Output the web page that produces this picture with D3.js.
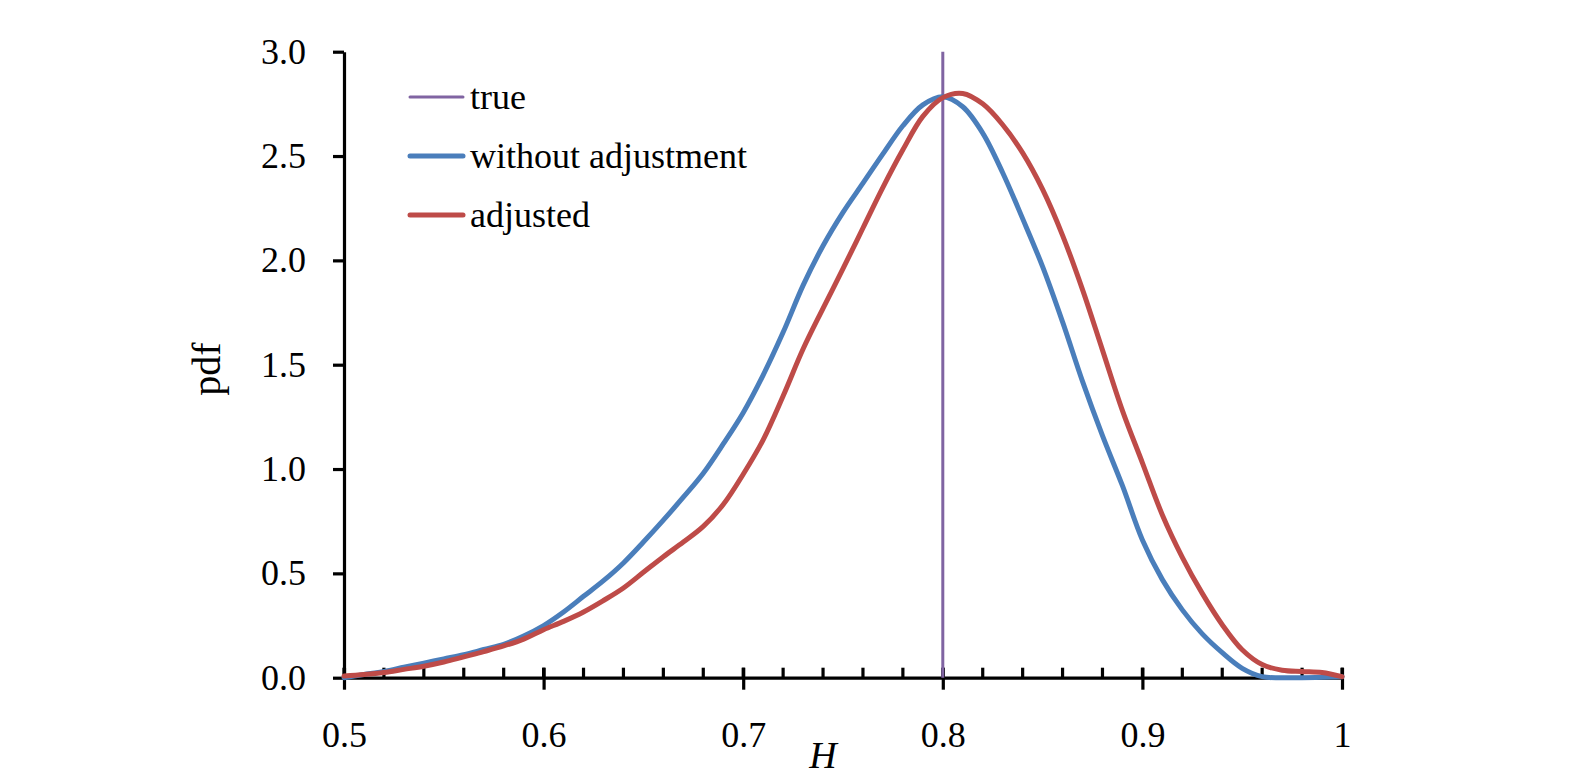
<!DOCTYPE html>
<html>
<head>
<meta charset="utf-8">
<script src="https://cdn.jsdelivr.net/npm/d3@7"></script>
<style>
  body { margin: 0; background: #fff; }
  svg text { font-family: "Liberation Serif", "Times New Roman", serif; fill: #000; }
  .axis path, .axis line { stroke: #000; stroke-width: 3.2; }
</style>
</head>
<body>
<svg id="chart" width="1583" height="776"></svg>
<script>
  // H grid (step 0.01)
  var hValues = d3.range(0, 51).map(function (i) { return +(0.5 + i * 0.01).toFixed(2); });

  // pdf without adjustment
  var withoutAdj = [
    0.00, 0.015, 0.03, 0.05, 0.07, 0.09, 0.11, 0.135, 0.16, 0.20,
    0.25, 0.315, 0.39, 0.465, 0.55, 0.65, 0.755, 0.865, 0.98, 1.12,
    1.27, 1.45, 1.655, 1.88, 2.07, 2.23, 2.37, 2.51, 2.645, 2.745,
    2.784, 2.736, 2.61, 2.42, 2.20, 1.97, 1.705, 1.42, 1.16, 0.92,
    0.66, 0.47, 0.325, 0.21, 0.12, 0.045, 0.005, 0.0, 0.0, 0.002,
    0.005
  ];

  // pdf adjusted
  var adjusted = [
    0.008, 0.015, 0.025, 0.04, 0.055, 0.075, 0.10, 0.125, 0.152, 0.185,
    0.23, 0.27, 0.315, 0.37, 0.43, 0.505, 0.58, 0.65, 0.725, 0.83,
    0.975, 1.14, 1.35, 1.575, 1.77, 1.96, 2.155, 2.35, 2.53, 2.69,
    2.78, 2.80, 2.75, 2.65, 2.515, 2.34, 2.12, 1.86, 1.57, 1.28,
    1.03, 0.78, 0.577, 0.404, 0.254, 0.134, 0.063, 0.036, 0.03, 0.025,
    0.005
  ];

  var trueH = 0.8;

  var xTicks = [0.5, 0.6, 0.7, 0.8, 0.9, 1.0];
  var xMinorTicks = d3.range(0, 26).map(function (i) { return 0.5 + i * 0.02; });
  var yTicks = [0, 0.5, 1.0, 1.5, 2.0, 2.5, 3.0];

  var legendItems = [
    { label: 'true', color: '#8064a2', width: 3 },
    { label: 'without adjustment', color: '#4a7ebb', width: 5 },
    { label: 'adjusted', color: '#be4b48', width: 5 }
  ];

  var svg = d3.select('#chart');
  var x = d3.scaleLinear().domain([0.5, 1]).range([344, 1342]);
  var y = d3.scaleLinear().domain([0, 3]).range([677.7, 51.7]);

  // y axis
  svg.append('g')
    .attr('class', 'axis')
    .attr('transform', 'translate(' + x(0.5) + ',0)')
    .call(d3.axisLeft(y).tickValues(yTicks).tickSize(11).tickSizeOuter(0).tickPadding(27)
      .tickFormat(d3.format('.1f')))
    .call(function (g) { g.selectAll('text').attr('font-size', 36); });

  // x axis minor ticks (upwards only)
  svg.append('g')
    .attr('class', 'axis')
    .selectAll('line')
    .data(xMinorTicks)
    .enter().append('line')
    .attr('x1', function (d) { return x(d); })
    .attr('x2', function (d) { return x(d); })
    .attr('y1', y(0) - 10)
    .attr('y2', y(0));

  // x axis main
  var xAxis = svg.append('g')
    .attr('class', 'axis')
    .attr('transform', 'translate(0,' + y(0) + ')')
    .call(d3.axisBottom(x).tickValues(xTicks).tickSize(12).tickSizeOuter(0).tickPadding(32)
      .tickFormat(function (d) { return d === 1 ? '1' : d3.format('.1f')(d); }));
  xAxis.selectAll('text').attr('font-size', 36);
  xAxis.selectAll('.tick line').attr('y1', -10);

  // true line
  svg.append('line')
    .attr('x1', x(trueH)).attr('x2', x(trueH))
    .attr('y1', y(3)).attr('y2', y(0))
    .attr('stroke', legendItems[0].color)
    .attr('stroke-width', 3);

  var line = d3.line()
    .x(function (d) { return x(d[0]); })
    .y(function (d) { return y(Math.max(0, d[1])); })
    .curve(d3.curveCatmullRom.alpha(0.5));

  [withoutAdj, adjusted].forEach(function (series, i) {
    svg.append('path')
      .datum(hValues.map(function (h, j) { return [h, series[j]]; }))
      .attr('fill', 'none')
      .attr('stroke', legendItems[i + 1].color)
      .attr('stroke-width', 5)
      .attr('stroke-linejoin', 'round')
      .attr('stroke-linecap', 'round')
      .attr('d', line);
  });

  // legend
  var legend = svg.append('g').selectAll('g')
    .data(legendItems)
    .enter().append('g')
    .attr('transform', function (d, i) { return 'translate(410,' + (97 + i * 59) + ')'; });
  legend.append('line')
    .attr('x1', 0).attr('x2', 53)
    .attr('stroke', function (d) { return d.color; })
    .attr('stroke-width', function (d) { return d.width; })
    .attr('stroke-linecap', 'round');
  legend.append('text')
    .attr('x', 60)
    .attr('dy', '0.32em')
    .attr('font-size', 36)
    .text(function (d) { return d.label; });

  // axis titles
  svg.append('text')
    .attr('x', 823).attr('y', 768)
    .attr('text-anchor', 'middle')
    .attr('font-size', 38)
    .attr('font-style', 'italic')
    .text('H');
  svg.append('text')
    .attr('transform', 'translate(220,369) rotate(-90)')
    .attr('text-anchor', 'middle')
    .attr('font-size', 40)
    .text('pdf');
</script>
</body>
</html>
